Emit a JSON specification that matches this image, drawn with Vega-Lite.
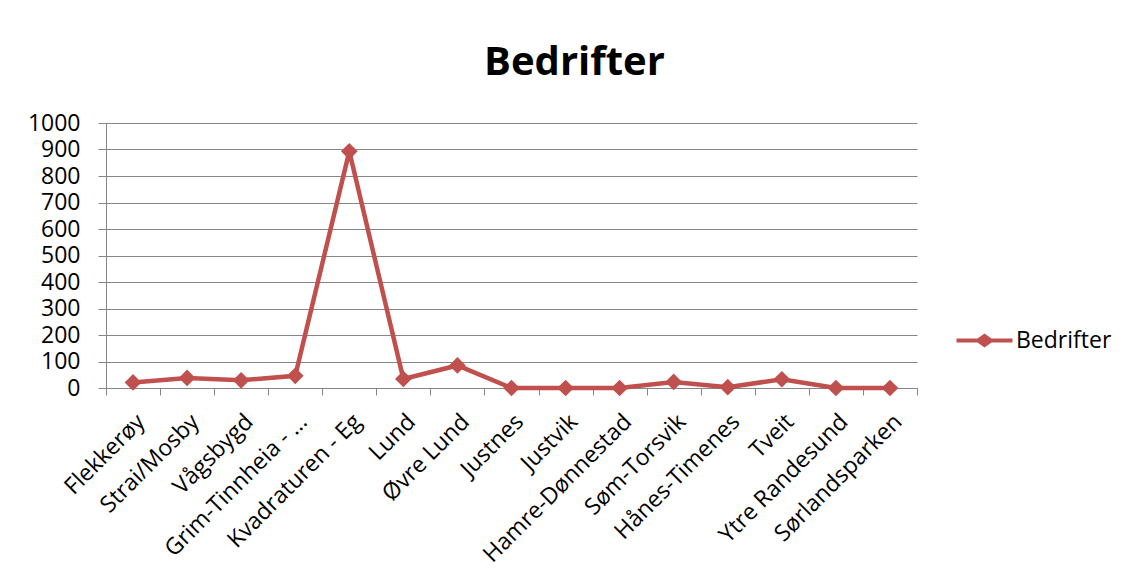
{
  "$schema": "https://vega.github.io/schema/vega-lite/v6.json",
  "autosize": "none",
  "width": 811,
  "height": 265,
  "padding": {"left": 106, "top": 123, "right": 208, "bottom": 192},
  "background": "white",
  "title": {
    "text": "Bedrifter",
    "font": "Open Sans",
    "fontSize": 40,
    "fontWeight": "bold",
    "color": "#000000",
    "anchor": "middle",
    "dx": 63,
    "offset": 29
  },
  "data": {
    "values": [
      {"omrade": "Flekkerøy", "antall": 21, "serie": "Bedrifter"},
      {"omrade": "Strai/Mosby", "antall": 38, "serie": "Bedrifter"},
      {"omrade": "Vågsbygd", "antall": 29, "serie": "Bedrifter"},
      {"omrade": "Grim-Tinnheia - …", "antall": 46, "serie": "Bedrifter"},
      {"omrade": "Kvadraturen - Eg", "antall": 893, "serie": "Bedrifter"},
      {"omrade": "Lund", "antall": 34, "serie": "Bedrifter"},
      {"omrade": "Øvre Lund", "antall": 85, "serie": "Bedrifter"},
      {"omrade": "Justnes", "antall": 0, "serie": "Bedrifter"},
      {"omrade": "Justvik", "antall": 0, "serie": "Bedrifter"},
      {"omrade": "Hamre-Dønnestad", "antall": 0, "serie": "Bedrifter"},
      {"omrade": "Søm-Torsvik", "antall": 23, "serie": "Bedrifter"},
      {"omrade": "Hånes-Timenes", "antall": 3, "serie": "Bedrifter"},
      {"omrade": "Tveit", "antall": 33, "serie": "Bedrifter"},
      {"omrade": "Ytre Randesund", "antall": 0, "serie": "Bedrifter"},
      {"omrade": "Sørlandsparken", "antall": 0, "serie": "Bedrifter"}
    ]
  },
  "encoding": {
    "x": {
      "field": "omrade",
      "type": "nominal",
      "sort": null,
      "scale": {"type": "band", "paddingInner": 0, "paddingOuter": 0},
      "bandPosition": 0.5,
      "axis": {
        "title": null,
        "labelAngle": -45,
        "labelFont": "Open Sans",
        "labelFontSize": 23,
        "labelColor": "#000000",
        "labelPadding": 15,
        "labelLimit": 300,
        "tickBand": "extent",
        "tickSize": 7,
        "tickColor": "#868686",
        "domainColor": "#868686",
        "grid": false
      }
    },
    "y": {
      "field": "antall",
      "type": "quantitative",
      "scale": {"domain": [0, 1000], "nice": false},
      "axis": {
        "title": null,
        "format": "d",
        "values": [0, 100, 200, 300, 400, 500, 600, 700, 800, 900, 1000],
        "labelFont": "Open Sans",
        "labelFontSize": 23,
        "labelColor": "#000000",
        "labelPadding": 18,
        "tickSize": 8,
        "tickColor": "#868686",
        "domainColor": "#868686",
        "gridColor": "#868686",
        "grid": true
      }
    },
    "color": {
      "field": "serie",
      "type": "nominal",
      "scale": {"range": ["#C0504D"]},
      "legend": {
        "title": null,
        "orient": "none",
        "legendX": 867,
        "legendY": 206,
        "padding": 0,
        "labelFont": "Open Sans",
        "labelFontSize": 23,
        "labelColor": "#000000",
        "labelOffset": 20,
        "symbolType": "M-4,-0.3L-1,-0.3L0,-1L1,-0.3L4,-0.3L4,0.3L1,0.3L0,1L-1,0.3L-4,0.3Z",
        "symbolSize": 196,
        "symbolFillColor": "#C0504D",
        "symbolStrokeWidth": 0
      }
    }
  },
  "layer": [
    {"mark": {"type": "line", "strokeWidth": 4.5}},
    {"mark": {"type": "point", "shape": "diamond", "filled": true, "opacity": 1, "size": 280}}
  ],
  "config": {"view": {"stroke": null}}
}
